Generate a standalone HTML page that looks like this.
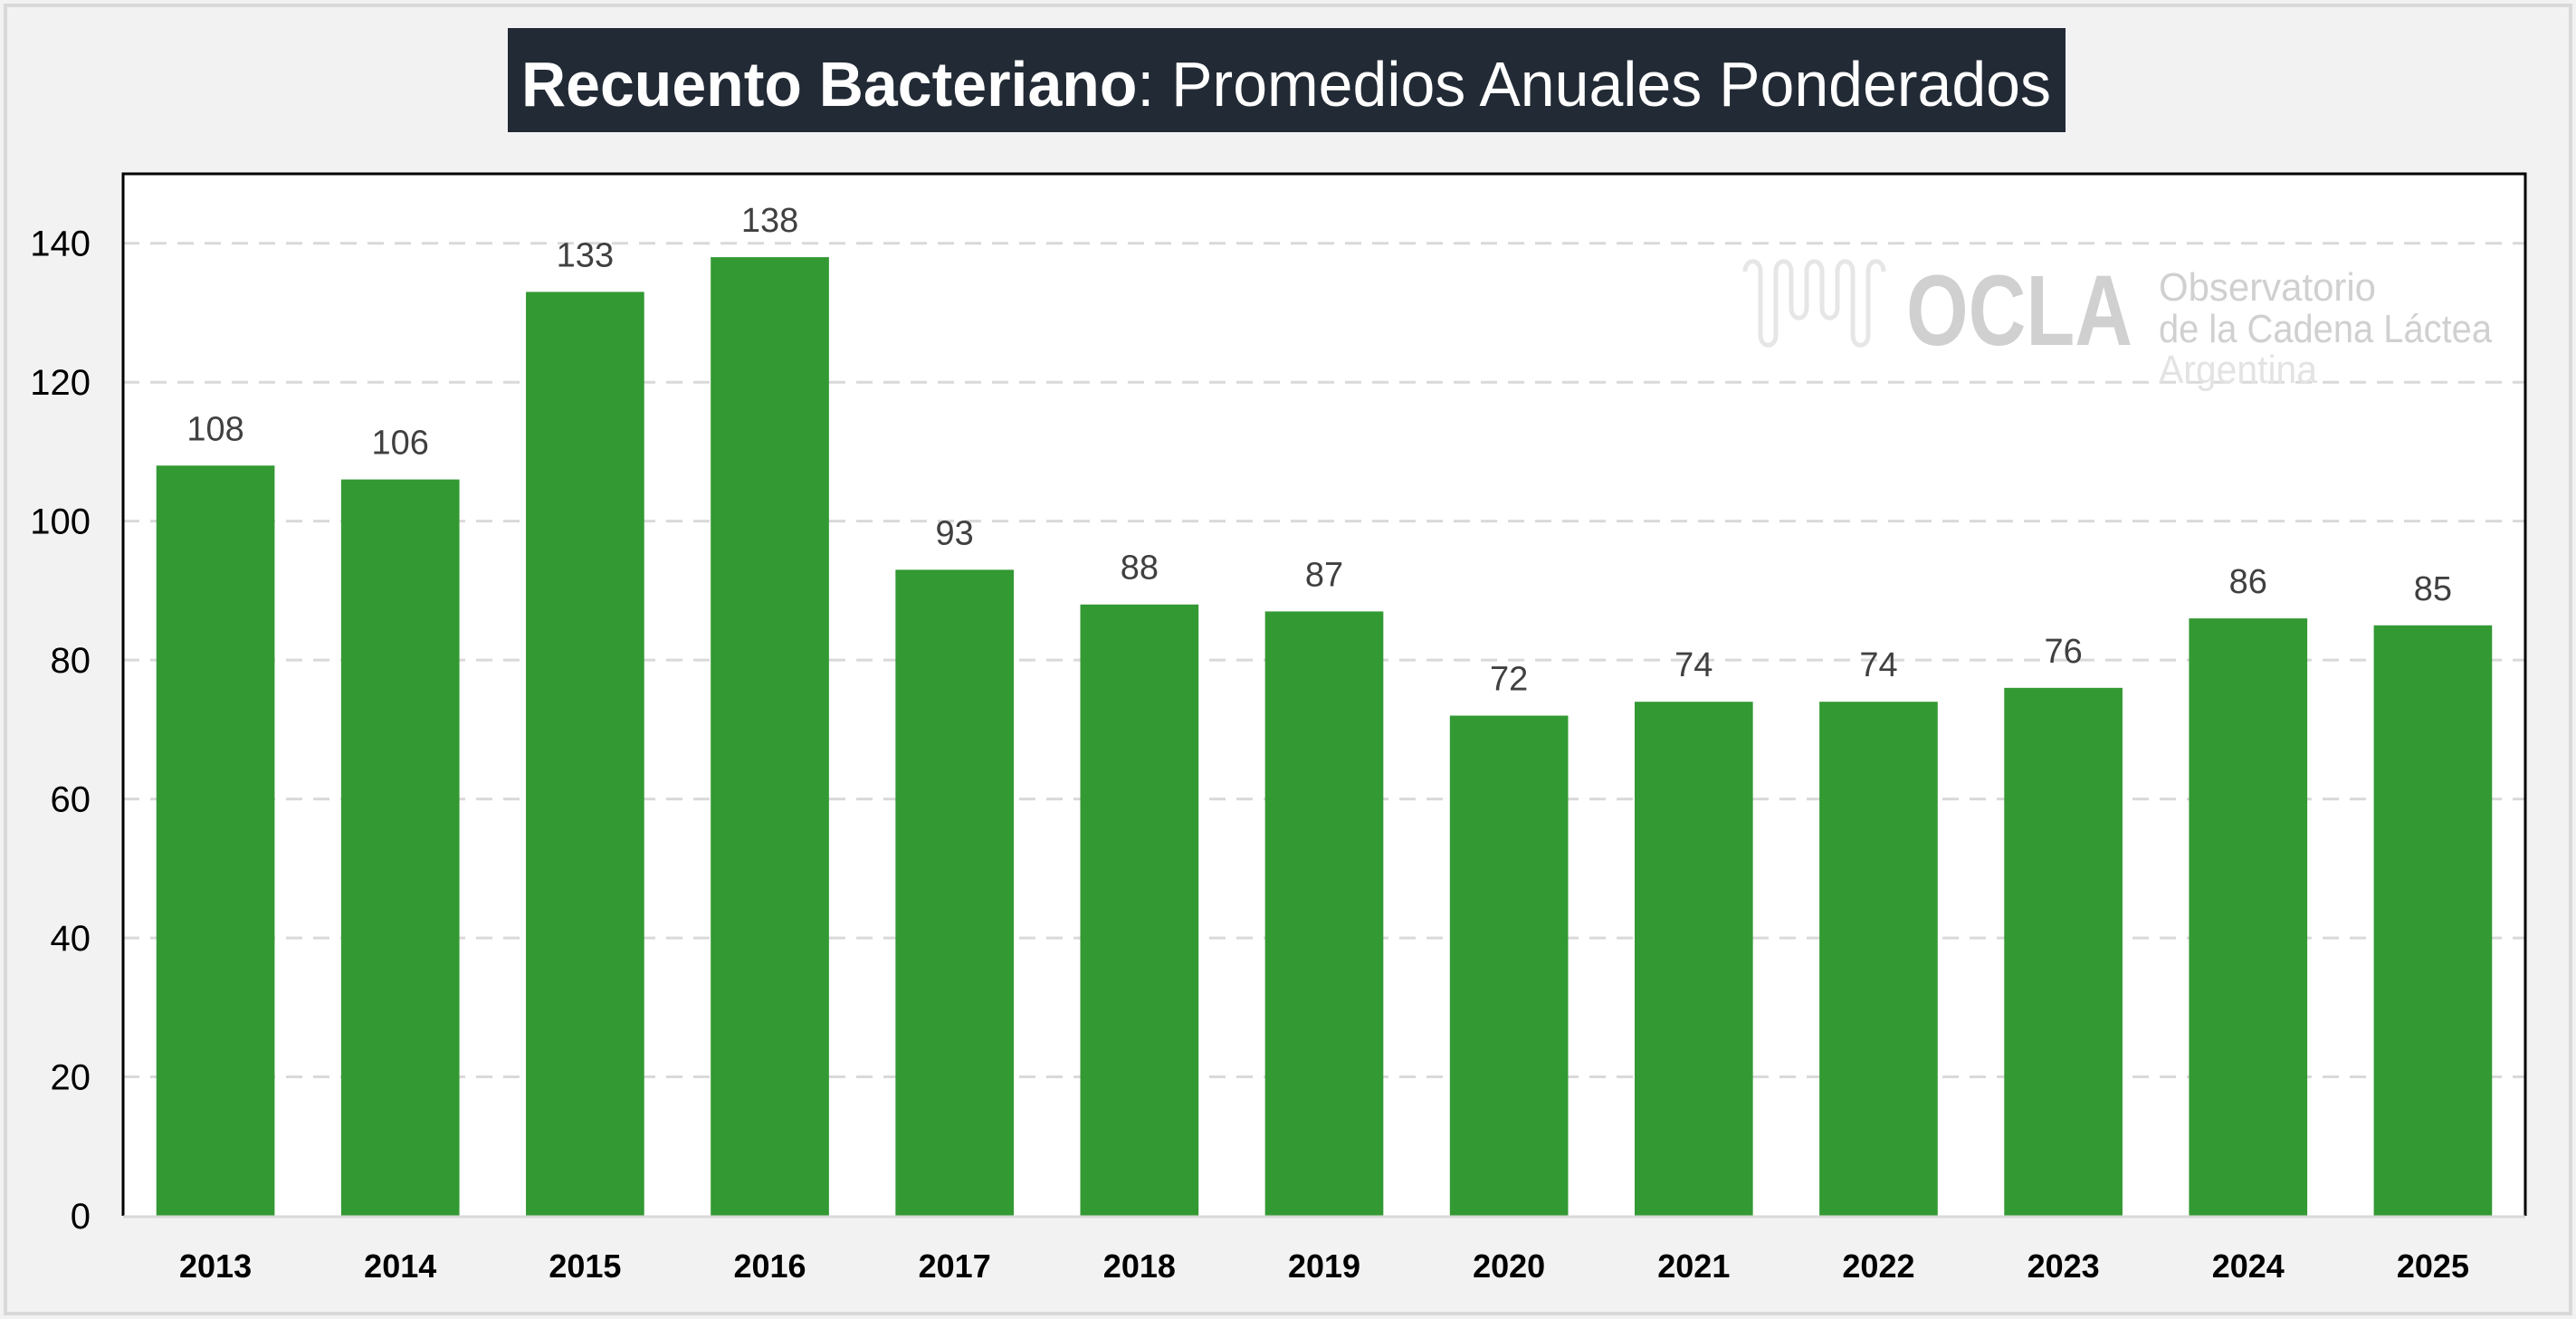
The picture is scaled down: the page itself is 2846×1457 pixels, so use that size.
<!DOCTYPE html>
<html>
<head>
<meta charset="utf-8">
<style>
  html,body{margin:0;padding:0;background:#f2f2f2;}
  svg{display:block;}
  text{font-family:"Liberation Sans",sans-serif;}
</style>
</head>
<body>
<svg id="chart" width="2846" height="1457" viewBox="0 0 2846 1457" xmlns="http://www.w3.org/2000/svg">
  <rect x="0" y="0" width="2846" height="1457" fill="#f2f2f2"/>
  <rect x="6" y="6" width="2834" height="1445" fill="none" stroke="#d9d9d9" stroke-width="4"/>
  <g>
    <rect x="561" y="31" width="1721" height="115" fill="#222a35"/>
    <text x="576" y="117" font-size="70" fill="#ffffff" textLength="1690" lengthAdjust="spacingAndGlyphs"><tspan font-weight="bold">Recuento Bacteriano</tspan>: Promedios Anuales Ponderados</text>
  </g>
  <rect x="136" y="192" width="2654" height="1151" fill="#ffffff"/>
  <g id="grid"></g>
  <g>
    <path d="M1928,300 C1928,285 1945,285 1945,300 L1945,370 C1945,385 1962,385 1962,370 L1962,300 C1962,285 1979,285 1979,300 L1979,340 C1979,355 1996,355 1996,340 L1996,300 C1996,285 2013,285 2013,300 L2013,340 C2013,355 2030,355 2030,340 L2030,300 C2030,285 2047,285 2047,300 L2047,370 C2047,385 2064,385 2064,370 L2064,300 C2064,285 2081,285 2081,300" fill="none" stroke="#e6e6e6" stroke-width="5"/>
    <text x="2106" y="381" font-size="110" font-weight="bold" fill="#d0d0d0" textLength="250" lengthAdjust="spacingAndGlyphs">OCLA</text>
    <text x="2385" y="332" font-size="44" fill="#d0d0d0" textLength="240" lengthAdjust="spacingAndGlyphs">Observatorio</text>
    <text x="2385" y="378" font-size="44" fill="#d0d0d0" textLength="368" lengthAdjust="spacingAndGlyphs">de la Cadena Láctea</text>
    <text x="2385" y="423" font-size="44" fill="#e3e3e3" textLength="175" lengthAdjust="spacingAndGlyphs">Argentina</text>
  </g>
  <g id="bars"></g>
  <g id="vlabels"></g>
  <g id="xlabels"></g>
  <g id="ylabels"></g>
  <path d="M136,1343 L136,192 L2790,192 L2790,1343" fill="none" stroke="#000000" stroke-width="3"/>
  <line x1="136" y1="1344" x2="2790" y2="1344" stroke="#d9d9d9" stroke-width="3"/>
</svg>
<script>
const categories = ["2013","2014","2015","2016","2017","2018","2019","2020","2021","2022","2023","2024","2025"];
const values = [108,106,133,138,93,88,87,72,74,74,76,86,85];
const valueLabels = ["108","106","133","138","93","88","87","72","74","74","76","86","85"];
const yTicks = [0,20,40,60,80,100,120,140];

const NS = "http://www.w3.org/2000/svg";
const L = 136, R = 2790, T = 192, B = 1343, YMAX = 150;
const band = (R - L) / categories.length;
function xScale(i){ return L + band * i + band / 2; }
function yScale(v){ return B - (v / YMAX) * (B - T); }
function mk(tag, attrs, parent){
  const e = document.createElementNS(NS, tag);
  for (const k in attrs) e.setAttribute(k, attrs[k]);
  parent.appendChild(e);
  return e;
}
const grid = document.getElementById('grid');
const ylab = document.getElementById('ylabels');
yTicks.forEach(function(t){
  const y = yScale(t);
  if (t > 0) {
    const g = mk('line', {x1:L, y1:y, x2:R, y2:y, stroke:'#d9d9d9', 'stroke-width':3, 'stroke-dasharray':'18,12'}, grid);
    
    
  }
  const tx = mk('text', {x:100, y:y + 14, 'font-size':40, fill:'#000', 'text-anchor':'end'}, ylab);
  tx.textContent = t;
  
  
});
const bars = document.getElementById('bars');
const vl = document.getElementById('vlabels');
const xl = document.getElementById('xlabels');
const bw = band * 0.64;
categories.forEach(function(c, i){
  const cx = xScale(i), y = yScale(values[i]);
  const r = mk('rect', {x:cx - bw/2, y:y, width:bw, height:B - y, fill:'#339933'}, bars);
  
  
  const t = mk('text', {x:cx, y:y - 28, 'font-size':38, fill:'#404040', 'text-anchor':'middle'}, vl);
  t.textContent = valueLabels[i];
  
  
  const x = mk('text', {x:cx, y:1411, 'font-size':36, 'font-weight':'bold', fill:'#000', 'text-anchor':'middle'}, xl);
  x.textContent = c;
  
  
});
</script>
</body>
</html>
